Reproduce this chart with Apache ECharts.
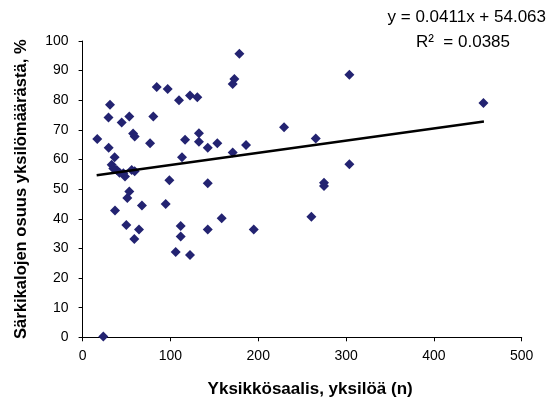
<!DOCTYPE html>
<html>
<head>
<meta charset="utf-8">
<script src="https://cdn.jsdelivr.net/npm/echarts@6/dist/echarts.min.js"></script>
<style>html,body{margin:0;padding:0;background:#fff}#c{width:553px;height:409px}</style>
</head>
<body>
<div id="c"></div>
<script>
// Catch per unit effort (n) vs. cyprinid share (%)
const catchN = [16.7, 23.6, 29.7, 29.5, 31.2, 33.1, 36.5, 36.9, 38.8, 44.5, 46.4, 48.3, 49.8, 50.9, 53.2, 53.2, 55.9, 57.5, 59.3, 58.9, 64.2, 67.6, 59.3, 76.8, 80.5, 84.4, 94.6, 96.9, 98.8, 106, 109.8, 111.7, 111.7, 113.2, 116.7, 122.3, 122.3, 130.6, 132.5, 132.5, 142.5, 142.5, 142.5, 153.4, 158.4, 170.9, 170.9, 172.8, 178.5, 186.1, 194.9, 229.4, 260.5, 265.5, 274.9, 274.9, 303.8, 303.8, 456.4, 35, 42];
const sharePct = [66.9, 0.3, 64.0, 74.2, 78.5, 58.2, 60.8, 42.8, 56.5, 72.5, 55.4, 54.3, 37.9, 47.0, 49.2, 74.5, 56.5, 68.8, 67.8, 33.2, 36.4, 44.5, 56.0, 65.5, 74.5, 84.5, 45.0, 83.8, 53.0, 28.8, 80.0, 37.6, 34.0, 60.8, 66.7, 27.8, 81.6, 81.0, 68.9, 66.0, 64.0, 52.0, 36.4, 65.5, 40.2, 62.4, 85.5, 87.2, 95.7, 64.9, 36.4, 70.9, 40.7, 67.1, 52.2, 51.1, 88.6, 58.4, 79.1, 57.0, 55.5];
// Linear trendline endpoints (as drawn)
const trendX = [16, 457];
const trendY = [54.72, 72.85];
const xTicks = [0, 100, 200, 300, 400, 500];
const yTicks = [0, 10, 20, 30, 40, 50, 60, 70, 80, 90, 100];
const eqText = 'y = 0.0411x + 54.063';
const r2Text = 'R²  = 0.0385';

const pts = catchN.map((x, i) => [x, sharePct[i]]);
const trend = trendX.map((x, i) => [x, trendY[i]]);

const chart = echarts.init(document.getElementById('c'), null, {renderer: 'canvas'});
const axisCol = '#000000';
const ff = '"Liberation Sans", Arial, sans-serif';
chart.setOption({
  animation: false,
  backgroundColor: '#ffffff',
  grid: {left: 82.6, right: 31.3, top: 41, bottom: 71.7, containLabel: false},
  xAxis: {
    type: 'value', min: xTicks[0], max: xTicks[xTicks.length - 1], interval: 100,
    name: 'Yksikkösaalis, yksilöä (n)', nameLocation: 'middle', nameGap: 44,
    nameTextStyle: {fontFamily: ff, fontWeight: 'bold', fontSize: 17, color: '#000', padding: [0, 0, 0, 16]},
    axisLine: {lineStyle: {color: axisCol, width: 1}},
    axisTick: {show: true, inside: false, length: 4, lineStyle: {color: axisCol}},
    axisLabel: {fontFamily: ff, fontSize: 14, color: '#000', margin: 12},
    splitLine: {show: false}
  },
  yAxis: {
    type: 'value', min: yTicks[0], max: yTicks[yTicks.length - 1], interval: 10,
    name: 'Särkikalojen osuus yksilömäärästä, %', nameLocation: 'middle', nameGap: 53,
    nameTextStyle: {fontFamily: ff, fontWeight: 'bold', fontSize: 16.6, color: '#000'},
    axisLine: {show: true, lineStyle: {color: axisCol, width: 1}},
    axisTick: {show: true, inside: false, length: 4, lineStyle: {color: axisCol}},
    axisLabel: {fontFamily: ff, fontSize: 14, color: '#000', margin: 14},
    splitLine: {show: false}
  },
  series: [
    {
      type: 'line', data: trend, symbol: 'none', silent: true,
      lineStyle: {color: '#000', width: 2.5}, z: 3
    },
    {
      type: 'scatter', data: pts, symbol: 'diamond', symbolSize: 10,
      itemStyle: {color: '#232371', opacity: 1}, z: 2
    }
  ],
  graphic: [
    {type: 'text', x: 546, y: 17, style: {text: eqText, font: '17px ' + ff, fill: '#000', textAlign: 'right', textVerticalAlign: 'middle'}},
    {type: 'text', x: 463, y: 42, style: {text: r2Text, font: '17px ' + ff, fill: '#000', textAlign: 'center', textVerticalAlign: 'middle'}}
  ]
});
</script>
</body>
</html>
